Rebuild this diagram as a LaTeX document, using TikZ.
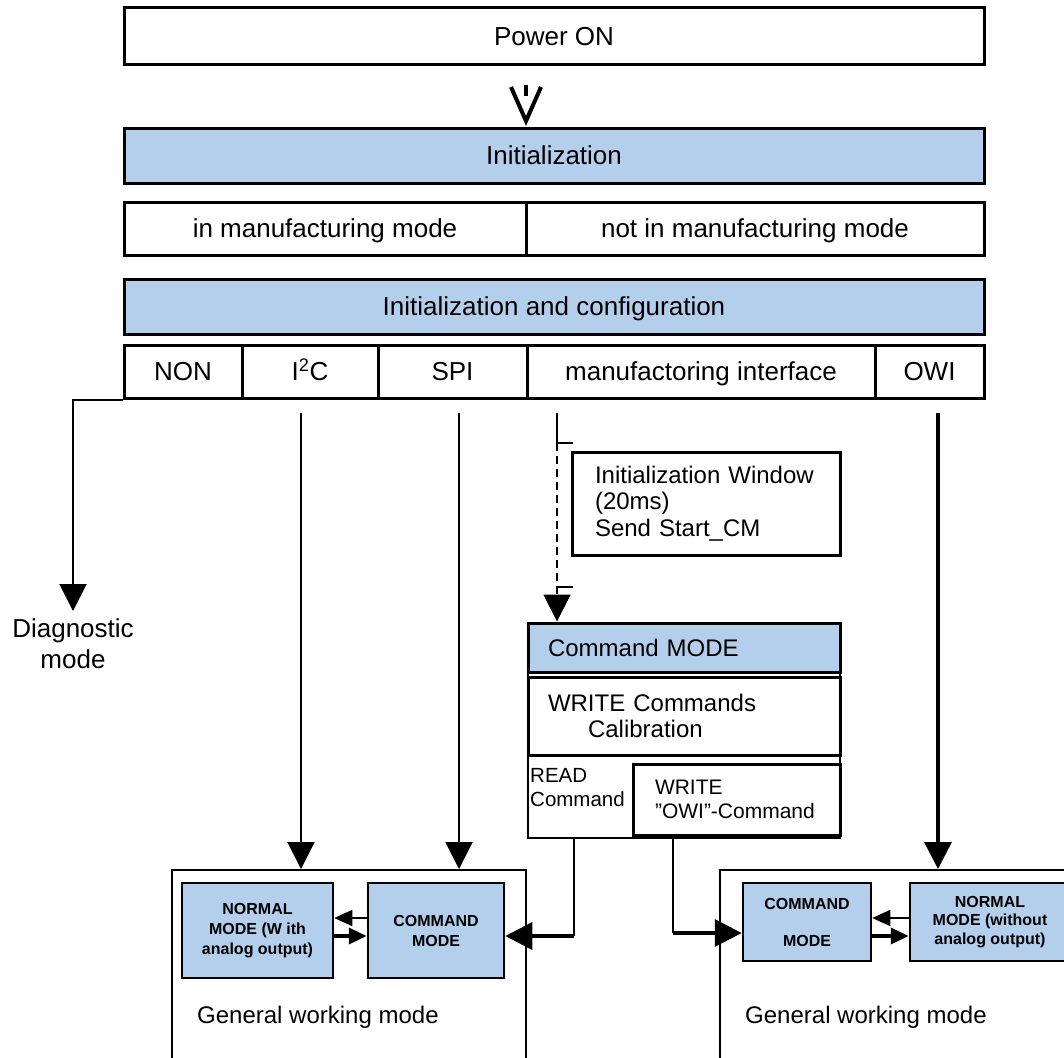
\documentclass[tikz,border=0pt]{standalone}
\usepackage{fontspec}
\setmainfont{Liberation Sans}
\usetikzlibrary{arrows.meta}
\definecolor{lblue}{RGB}{180,207,236}
\begin{document}
\begin{tikzpicture}[x=1pt,y=-1pt,
  topbox/.style={draw, line width=3pt, inner sep=0pt, text height=18.7pt, text depth=0pt, font=\fontsize{26}{30}\selectfont},
  bluefill/.style={fill=lblue},
  cmdbox/.style={draw, line width=3pt, inner ysep=0pt, align=left, font=\fontsize{24}{26.5}\selectfont},
  thinframe/.style={draw, line width=1.3pt, inner sep=0pt},
  gbox/.style={draw, line width=2pt, inner sep=0pt},
  modebox/.style={draw, line width=2.5pt, fill=lblue, inner sep=0pt, align=center, font=\fontsize{16}{20}\selectfont\bfseries},
  plaintext/.style={inner sep=0pt, font=\fontsize{24}{28}\selectfont},
  conn/.style={line width=2pt},
  thickconn/.style={line width=3.5pt},
  bigtip/.style={-{Triangle[length=27pt,width=27pt]}},
  smalltip/.style={-{Triangle[length=18pt,width=16pt]}},
]
\useasboundingbox (0,0) rectangle (1064,1057);

% ---- top stack
\node[topbox, minimum width=860pt, minimum height=56pt] (pwr) at (554,36) {Power ON};
\node[topbox, bluefill, minimum width=860pt, minimum height=55pt] (init) at (554,155.5) {Initialization};
\node[topbox, minimum width=402pt, minimum height=53pt] (inman) at (325,228.5) {in manufacturing mode};
\node[topbox, minimum width=458pt, minimum height=53pt] (notman) at (755,228.5) {not in manufacturing mode};
\node[topbox, bluefill, minimum width=860pt, minimum height=55pt] (initcfg) at (554,306.5) {Initialization and configuration};
\node[topbox, minimum width=118pt, minimum height=53pt] (non) at (183,371.5) {NON};
\node[topbox, minimum width=136pt, minimum height=53pt] (iic) at (310,371.5) {I\textsuperscript{2}C};
\node[topbox, minimum width=149pt, minimum height=53pt] (spi) at (452.5,371.5) {SPI};
\node[topbox, minimum width=348pt, minimum height=53pt] (mif) at (701,371.5) {manufactoring interface};
\node[topbox, minimum width=109pt, minimum height=53pt] (owi) at (929.5,371.5) {OWI};

% ---- power on -> initialization
\coordinate (vtip) at (526,121);
\draw[line width=4pt, dash pattern=on 0pt off 19pt on 11pt off 200pt] (pwr.south -| vtip) -- (vtip);
\draw[line width=4pt, line join=miter] (511,87) -- (vtip) -- (541,87);

% ---- diagnostic
\node[inner xsep=0pt, inner ysep=7pt, anchor=north, align=center, font=\fontsize{26}{31}\selectfont] (diag) at (73,611) {Diagnostic\\mode};
\draw[conn, bigtip] (non.south west) -| (diag.north);

% ---- initialization window
\node[cmdbox, text width=222pt, inner xsep=23pt, minimum height=103pt] (initwin) at (706,503.5)
  {Initialization Window\\(20ms)\\Send Start\_CM};

% ---- command mode stack
\node[thinframe, minimum width=312pt, minimum height=215pt] (cmdframe) at (684,730.5) {};
\node[cmdbox, bluefill, text width=272pt, inner xsep=20pt, minimum height=49pt, text height=17.2pt, text depth=0pt] (cmdmode) at (684,647.5) {Command MODE};
\node[cmdbox, text width=272pt, inner xsep=20pt, minimum height=78pt] (writecmd) at (684,716)
  {WRITE Commands\\\hspace*{40pt}Calibration};
\node[inner sep=0pt, anchor=north west, align=left, font=\fontsize{20.5}{24}\selectfont] (readtxt) at (530,768) {READ\\Command};
\node[cmdbox, text width=163pt, inner xsep=22pt, minimum height=71pt, font=\fontsize{21}{24}\selectfont] (owibox) at (736.5,799.5)
  {WRITE\\”OWI”-Command};

% ---- manufactoring interface -> command mode (dashed window)
\coordinate (mifsrc) at (557,413);
\coordinate (winA) at (557,443);
\coordinate (winB) at (557,587);
\draw[conn] (mifsrc) -- (winA) -- ++(16,0);
\draw[conn, dash pattern=on 8pt off 5pt, bigtip] (winA) -- (winA |- cmdmode.north);
\draw[conn] (winB) -- ++(16,0);

% ---- general working mode boxes
\node[gbox, minimum width=354pt, minimum height=210pt] (gwl) at (349,975) {};
\node[gbox, minimum width=360pt, minimum height=210pt] (gwr) at (900,975) {};
\node[plaintext, anchor=base west] (gwltxt) at (197,1023) {General working mode};
\node[plaintext, anchor=base west] (gwrtxt) at (745,1023) {General working mode};

\node[modebox, minimum width=151pt, minimum height=95pt] (nwl) at (257.5,930.5) {NORMAL\\MODE (W ith\\analog output)};
\node[modebox, minimum width=136pt, minimum height=95pt] (cml) at (436,930.5) {COMMAND\\MODE};
\node[modebox, minimum width=128pt, minimum height=78pt, font=\fontsize{16}{18.5}\selectfont\bfseries] (cmr) at (807,922) {COMMAND\\[18.5pt]MODE};
\node[modebox, minimum width=160pt, minimum height=78pt, font=\fontsize{16}{18.5}\selectfont\bfseries] (nwr) at (990,922) {NORMAL\\MODE (without\\analog output)};

% ---- arrows between modes
\draw[line width=1.5pt, smalltip] ([yshift=12.5pt]cml.west) -- ([yshift=12.5pt]nwl.east);
\draw[thickconn, smalltip] ([yshift=-5.5pt]nwl.east) -- ([yshift=-5.5pt]cml.west);
\draw[line width=1.5pt, smalltip] ([yshift=4pt]nwr.west) -- ([yshift=4pt]cmr.east);
\draw[thickconn, smalltip] ([yshift=-14pt]cmr.east) -- ([yshift=-14pt]nwr.west);

% ---- interface arrows
\coordinate (iicsrc) at (301,413);
\coordinate (spisrc) at (459,413);
\coordinate (owisrc) at (938,413);
\draw[conn, bigtip] (iicsrc) -- (iicsrc |- gwl.north);
\draw[conn, bigtip] (spisrc) -- (spisrc |- gwl.north);
\draw[thickconn, bigtip] (owisrc) -- (owisrc |- gwr.north);

% ---- command mode outputs
\coordinate (readbend) at (574,936);
\draw[conn] (readbend |- cmdframe.south) -- (readbend);
\draw[thickconn, bigtip] (readbend) -- (cml.east |- readbend);
\coordinate (owibend) at (673,933);
\draw[conn] (owibend |- owibox.south) -- (owibend);
\draw[thickconn, bigtip] (owibend) -- (cmr.west |- owibend);
\end{tikzpicture}
\end{document}
